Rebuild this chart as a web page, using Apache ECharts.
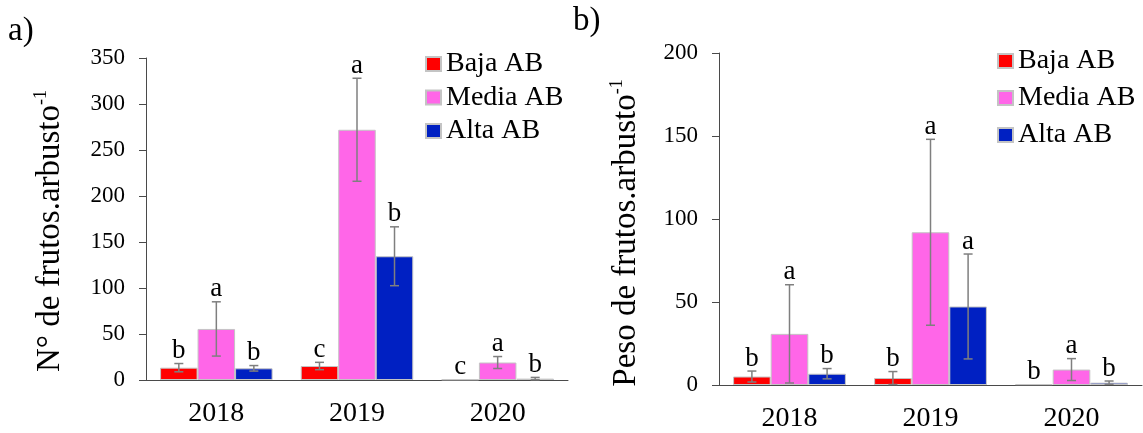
<!DOCTYPE html>
<html>
<head>
<meta charset="utf-8">
<script src="https://cdn.jsdelivr.net/npm/echarts@6/dist/echarts.min.js"></script>
<style>
  html, body { margin: 0; padding: 0; background: #ffffff; }
  #chart { width: 1143px; height: 433px; }
</style>
</head>
<body>
<div id="chart"></div>
<script>
// Years on the x axis and shrub-density classes
const years = ['2018', '2019', '2020'];
const groups = ['Baja AB', 'Media AB', 'Alta AB'];

// a) number of fruits per shrub (mean, error, significance letter)
const countBaja = [13.4, 15.2, 0.6];
const countMedia = [55.5, 272, 19];
const countAlta = [12.7, 134.5, 1.5];
const countBajaErr = [4.5, 4, 0];
const countMediaErr = [29.5, 56, 6.5];
const countAltaErr = [3, 32, 1.3];
const countBajaLetters = ['b', 'c', 'c'];
const countMediaLetters = ['a', 'a', 'a'];
const countAltaLetters = ['b', 'b', 'b'];
const countTicks = { min: 0, max: 350, interval: 50 };

// b) fruit weight per shrub
const weightBaja = [5.1, 4.2, 0.5];
const weightMedia = [30.8, 92, 9.3];
const weightAlta = [6.8, 47.3, 1.4];
const weightBajaErr = [3.3, 3.9, 0];
const weightMediaErr = [29.6, 56, 6.6];
const weightAltaErr = [3.1, 31.6, 1];
const weightBajaLetters = ['b', 'b', 'b'];
const weightMediaLetters = ['a', 'a', 'a'];
const weightAltaLetters = ['b', 'a', 'b'];
const weightTicks = { min: 0, max: 200, interval: 50 };

const colors = ['#ff0000', '#ff66e8', '#0020c2'];
const FONT = '"Liberation Serif", "Times New Roman", serif';
const AXIS_COLOR = '#4a4a4a';

const chart = echarts.init(document.getElementById('chart'), null, { renderer: 'canvas' });

function barSeries(name, values, idx, color) {
  return {
    type: 'bar', name: name,
    xAxisIndex: idx, yAxisIndex: idx,
    data: values,
    barGap: '0%', barCategoryGap: '20%',
    itemStyle: { color: color, borderColor: '#c4c4c4', borderWidth: 1 },
    emphasis: { disabled: true },
    silent: true,
    z: 2
  };
}

// Error bars and significance letters, drawn on top of the bars
function errorSeries(idx, means, errs, letters) {
  const data = [];
  const flatLetters = [];
  means.forEach((m, slot) => {
    m.forEach((v, cat) => {
      data.push([cat, v, errs[slot][cat], slot]);
      flatLetters.push(letters[slot][cat]);
    });
  });
  return {
    type: 'custom',
    xAxisIndex: idx, yAxisIndex: idx,
    silent: true,
    z: 5,
    data: data,
    renderItem: function (params, api) {
      const cat = api.value(0), mean = api.value(1), err = api.value(2), slot = api.value(3);
      const band = api.size([1, 0])[0];
      const barW = band * 0.8 / 3;
      const xc = api.coord([cat, mean])[0] + (slot - 1) * barW;
      const yTop = api.coord([cat, mean + err])[1];
      const yBot = api.coord([cat, Math.max(mean - err, 0)])[1];
      const cap = 4.5;
      const lineStyle = { stroke: '#7f7f7f', lineWidth: 1.5 };
      const children = [];
      if (err > 0) {
        children.push({ type: 'line', shape: { x1: xc, y1: yTop, x2: xc, y2: yBot }, style: lineStyle });
        children.push({ type: 'line', shape: { x1: xc - cap, y1: yTop, x2: xc + cap, y2: yTop }, style: lineStyle });
        children.push({ type: 'line', shape: { x1: xc - cap, y1: yBot, x2: xc + cap, y2: yBot }, style: lineStyle });
      }
      children.push({
        type: 'text',
        style: {
          text: flatLetters[params.dataIndex],
          x: xc, y: yTop + 1,
          align: 'center', verticalAlign: 'bottom',
          font: '27px ' + FONT, fill: '#000000'
        }
      });
      return { type: 'group', children: children };
    }
  };
}

function yAxisDef(idx, ticks) {
  return {
    type: 'value', gridIndex: idx,
    min: ticks.min, max: ticks.max, interval: ticks.interval,
    axisLine: { show: true, lineStyle: { color: AXIS_COLOR, width: 1 } },
    axisTick: { show: true, inside: false, length: 7, lineStyle: { color: AXIS_COLOR } },
    axisLabel: { margin: 21, color: '#000000', fontFamily: FONT, fontSize: 23 },
    splitLine: { show: false }
  };
}

function xAxisDef(idx) {
  return {
    type: 'category', gridIndex: idx, data: years,
    axisLine: { show: true, lineStyle: { color: AXIS_COLOR, width: 1 } },
    axisTick: { show: false },
    axisLabel: { margin: 20, color: '#000000', fontFamily: FONT, fontSize: 28 }
  };
}

function legendDef(left, top, gap) {
  return {
    data: groups,
    orient: 'vertical',
    left: left, top: top,
    padding: 0,
    itemWidth: 15, itemHeight: 14,
    itemGap: gap,
    icon: 'rect',
    selectedMode: false,
    textStyle: { fontFamily: FONT, fontSize: 28, color: '#000000', lineHeight: 24, padding: [0, 0, 0, 0] }
  };
}

function axisTitle(x, y, main) {
  return {
    type: 'text',
    x: x, y: y,
    rotation: Math.PI / 2,
    style: {
      text: '{m|' + main + '}{s|-1}',
      align: 'center', verticalAlign: 'middle',
      rich: {
        m: { fontFamily: FONT, fontSize: 33, fill: '#000000', lineHeight: 36 },
        s: { fontFamily: FONT, fontSize: 18, fill: '#000000', verticalAlign: 'top', lineHeight: 36, padding: [0, 0, 14, 0] }
      }
    }
  };
}

const option = {
  animation: false,
  backgroundColor: '#ffffff',
  grid: [
    { left: 146, right: 575, top: 58, bottom: 53 },
    { left: 719, right: 1, top: 53, bottom: 45.5 }
  ],
  xAxis: [xAxisDef(0), xAxisDef(1)],
  yAxis: [yAxisDef(0, countTicks), yAxisDef(1, weightTicks)],
  legend: [legendDef(425, 50, 5.5), legendDef(997, 47, 9)],
  graphic: [
    { type: 'text', left: 8, top: 15, style: { text: 'a)', font: '33px ' + FONT, fill: '#000000' } },
    { type: 'text', left: 573, top: 5, style: { text: 'b)', font: '33px ' + FONT, fill: '#000000' } },
    axisTitle(50, 231, 'N° de frutos.arbusto'),
    axisTitle(626, 233, 'Peso de frutos.arbusto')
  ],
  series: [
    barSeries(groups[0], countBaja, 0, colors[0]),
    barSeries(groups[1], countMedia, 0, colors[1]),
    barSeries(groups[2], countAlta, 0, colors[2]),
    errorSeries(0,
      [countBaja, countMedia, countAlta],
      [countBajaErr, countMediaErr, countAltaErr],
      [countBajaLetters, countMediaLetters, countAltaLetters]),
    barSeries(groups[0], weightBaja, 1, colors[0]),
    barSeries(groups[1], weightMedia, 1, colors[1]),
    barSeries(groups[2], weightAlta, 1, colors[2]),
    errorSeries(1,
      [weightBaja, weightMedia, weightAlta],
      [weightBajaErr, weightMediaErr, weightAltaErr],
      [weightBajaLetters, weightMediaLetters, weightAltaLetters])
  ]
};

chart.setOption(option);
</script>
</body>
</html>
